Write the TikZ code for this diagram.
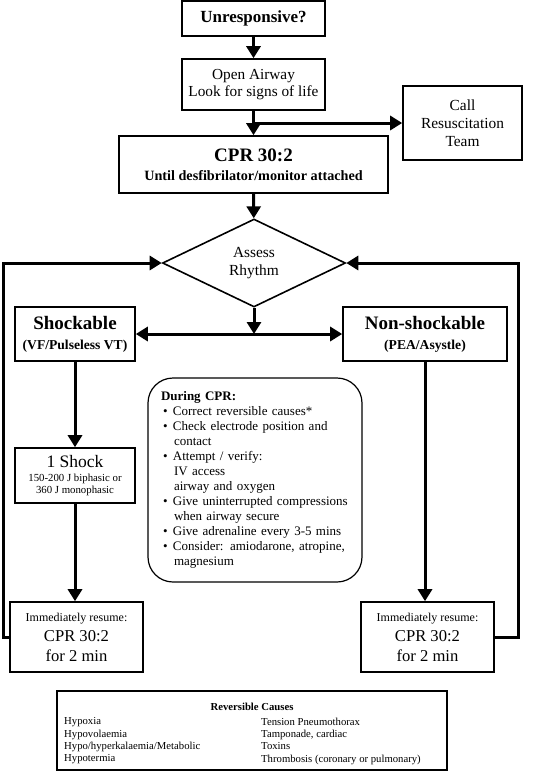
\documentclass[tikz,border=0pt]{standalone}
\usepackage{fontspec}
\setmainfont{Liberation Serif}
\usetikzlibrary{arrows.meta, shapes.geometric, calc}

\begin{document}
\begin{tikzpicture}[
x={(1pt,0pt)}, y={(0pt,-1pt)},
% #region Picture settings %
box/.style={draw, line width=1.6pt, inner sep=0pt, align=center},
arr/.style={line width=3pt, -{Triangle[length=12pt, width=14pt]}},
% #endregion Picture settings %
]
\useasboundingbox (0,0) rectangle (540,772);

% top of the chart
\node[box, minimum width=143pt, minimum height=35pt, font={\bfseries\fontsize{17}{19}\selectfont}] (unresp) at (253.5,18.5) {Unresponsive?};
\node[box, minimum width=143pt, minimum height=51pt, font={\fontsize{15.3}{17}\selectfont}] (airway) at (253.5,84.5) {Open Airway\\Look for signs of life};
\node[box, minimum width=119pt, minimum height=74pt, font={\fontsize{15.4}{18}\selectfont}] (call) at (462.5,123) {Call\\Resuscitation\\Team};
\node[box, minimum width=269pt, minimum height=57pt, font={\bfseries\fontsize{14.2}{19}\selectfont}] (cpr) at (253.5,164.5) {{\fontsize{19}{19}\selectfont CPR 30:2}\\Until desfibrilator/monitor attached};
\node[box, diamond, minimum width=183pt, minimum height=88pt, font={\fontsize{15.4}{18}\selectfont}] (assess) at (254,263) {Assess\\Rhythm};

% two branches
\node[box, minimum width=120pt, minimum height=54pt, font={\bfseries\fontsize{13.6}{20}\selectfont}] (shock) at (75,334) {{\fontsize{19}{20}\selectfont Shockable}\\(VF/Pulseless VT)};
\node[box, minimum width=164pt, minimum height=54pt, font={\bfseries\fontsize{13.6}{20}\selectfont}] (nonshock) at (425,334) {{\fontsize{19}{20}\selectfont Non-shockable}\\(PEA/Asystle)};
\node[box, minimum width=120pt, minimum height=55pt, font={\fontsize{10.8}{12}\selectfont}] (oneshock) at (75,475.5) {{\fontsize{17.5}{12}\selectfont 1 Shock}\\[2pt]150-200 J biphasic or\\360 J monophasic};
\node[box, minimum width=133pt, minimum height=70pt, font={\fontsize{16.6}{20}\selectfont}] (cprL) at (76.5,637) {{\fontsize{12}{20}\selectfont Immediately resume:}\\CPR 30:2\\for 2 min};
\node[box, minimum width=133pt, minimum height=70pt, font={\fontsize{16.6}{20}\selectfont}] (cprR) at (427.5,637) {{\fontsize{12}{20}\selectfont Immediately resume:}\\CPR 30:2\\for 2 min};

% during CPR
\node[draw, line width=1.2pt, rounded corners=25pt, minimum width=214pt, minimum height=204pt, inner xsep=13pt, text width=188pt, align=left, font={\fontsize{13}{15}\selectfont}] (during) at (255,480) {%
\textbf{During CPR:}\\
\hspace*{2pt}\makebox[10pt][l]{\textbullet}Correct reversible causes*\\
\hspace*{2pt}\makebox[10pt][l]{\textbullet}Check electrode position and\\
\hspace*{13pt}contact\\
\hspace*{2pt}\makebox[10pt][l]{\textbullet}Attempt / verify:\\
\hspace*{13pt}IV access\\
\hspace*{13pt}airway and oxygen\\
\hspace*{2pt}\makebox[10pt][l]{\textbullet}Give uninterrupted compressions\\
\hspace*{13pt}when airway secure\\
\hspace*{2pt}\makebox[10pt][l]{\textbullet}Give adrenaline every 3-5 mins\\
\hspace*{2pt}\makebox[10pt][l]{\textbullet}Consider: amiodarone, atropine,\\
\hspace*{13pt}magnesium};

% reversible causes
\node[box, minimum width=390pt, minimum height=79pt] (causes) at (252,730.5) {};
\node[font={\bfseries\fontsize{10.7}{12.4}\selectfont}] (causesT) at (252,707) {Reversible Causes};
\node[anchor=north west, align=left, inner sep=0pt, font={\fontsize{10.7}{12.4}\selectfont}] (causesL) at (64,717.5) {Hypoxia\\Hypovolaemia\\Hypo/hyperkalaemia/Metabolic\\Hypotermia};
\node[anchor=north west, align=left, inner sep=0pt, font={\fontsize{10.7}{12.4}\selectfont}] (causesR) at (261,717.5) {Tension Pneumothorax\\Tamponade, cardiac\\Toxins\\Thrombosis (coronary or pulmonary)};

% arrows
\draw[arr] (unresp) -- (airway);
\draw[arr] (airway) -- (cpr);
\coordinate (branch) at (airway.south |- call.west);
\draw[arr] (branch) -- (call.west);
\draw[arr] (cpr) -- (assess);
\coordinate (split) at (assess.south |- shock.east);
\draw[arr] (assess) -- (split);
\draw[arr] (split) -- (shock.east);
\draw[arr] (split) -- (nonshock.west);
\draw[arr] (shock) -- (oneshock);
\draw[arr] (oneshock.south) -- (oneshock.south |- cprL.north);
\draw[arr] (nonshock.south) -- (nonshock.south |- cprR.north);

\coordinate (retL) at (3,263);
\coordinate (retR) at (518,263);
\draw[arr] (cprL.west) -| (retL) -- (assess.west);
\draw[arr] (cprR.east) -| (retR) -- (assess.east);

\end{tikzpicture}
\end{document}
